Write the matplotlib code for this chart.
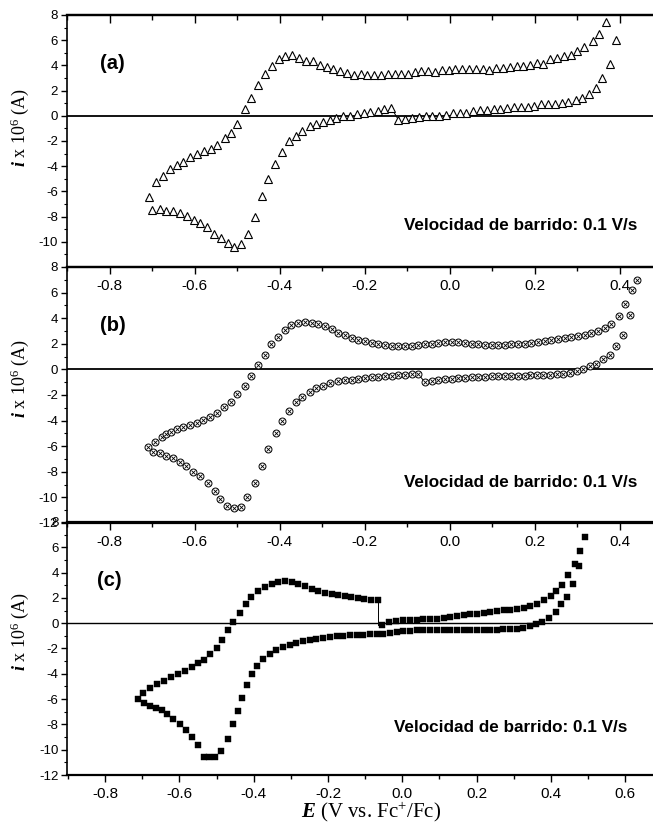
import matplotlib
matplotlib.use("Agg")
import matplotlib.pyplot as plt
from matplotlib.ticker import MultipleLocator

plt.rcParams['font.family'] = ['Liberation Sans', 'DejaVu Sans']
plt.rcParams['axes.unicode_minus'] = False
plt.rcParams['mathtext.fontset'] = 'custom'
plt.rcParams['mathtext.rm'] = 'Liberation Serif'
plt.rcParams['mathtext.it'] = 'Liberation Serif:italic'
plt.rcParams['mathtext.bf'] = 'Liberation Serif:bold'
plt.rcParams['mathtext.bfit'] = 'Liberation Serif:italic:bold'

# ---------------- data (E in V vs Fc+/Fc, i x 1e6 in A) ----------------
E_a = [-0.138, -0.154, -0.170, -0.187, -0.203, -0.219, -0.235, -0.251, -0.267, -0.282,
       -0.298, -0.314, -0.329, -0.347, -0.363, -0.379, -0.395, -0.411, -0.428, -0.443,
       -0.459, -0.475, -0.492, -0.508, -0.523, -0.539, -0.555, -0.571, -0.587, -0.602,
       -0.618, -0.635, -0.651, -0.667, -0.682, -0.700, -0.708,
       -0.692, -0.675, -0.659, -0.643, -0.628, -0.612, -0.595, -0.579, -0.563, -0.548,
       -0.530, -0.514, -0.500, -0.482, -0.467, -0.451, -0.435, -0.419, -0.402, -0.387,
       -0.371, -0.355, -0.339, -0.322, -0.306, -0.290, -0.275, -0.259, -0.243, -0.226,
       -0.210, -0.194, -0.178, -0.162, -0.146, -0.130, -0.114, -0.098, -0.082, -0.067,
       -0.051, -0.035, -0.018, -0.002, 0.013, 0.029, 0.044, 0.061, 0.077, 0.093,
       0.108, 0.124, 0.141, 0.157, 0.172, 0.188, 0.204, 0.220, 0.236, 0.253,
       0.268, 0.284, 0.300, 0.316, 0.336, 0.351, 0.368, 0.391,
       0.376, 0.359, 0.343, 0.327, 0.311, 0.296, 0.279, 0.264, 0.248, 0.232,
       0.215, 0.199, 0.183, 0.168, 0.151, 0.135, 0.119, 0.103, 0.087, 0.071,
       0.055, 0.039, 0.023, 0.008, -0.009, -0.025, -0.041, -0.057, -0.073, -0.089,
       -0.105, -0.121]
I_a = [0.64, 0.52, 0.42, 0.29, 0.21, 0.13, 0.00, -0.05, -0.18, -0.33,
       -0.47, -0.68, -0.78, -1.21, -1.60, -2.00, -2.85, -3.83, -5.04, -6.37,
       -8.06, -9.41, -10.20, -10.44, -10.12, -9.67, -9.38, -8.80, -8.48, -8.27,
       -7.95, -7.74, -7.53, -7.53, -7.42, -7.48, -6.42,
       -5.23, -4.75, -4.25, -3.90, -3.64, -3.27, -3.03, -2.77, -2.61, -2.32,
       -1.79, -1.34, -0.65, 0.52, 1.39, 2.44, 3.32, 3.95, 4.48, 4.75,
       4.80, 4.56, 4.35, 4.37, 4.03, 3.85, 3.71, 3.56, 3.42, 3.24,
       3.29, 3.24, 3.24, 3.24, 3.29, 3.30, 3.30, 3.29, 3.45, 3.56,
       3.56, 3.45, 3.63, 3.63, 3.69, 3.69, 3.69, 3.69, 3.69, 3.63,
       3.77, 3.77, 3.85, 3.98, 3.98, 4.03, 4.16, 4.08, 4.48, 4.56,
       4.77, 4.82, 5.14, 5.43, 5.94, 6.47, 7.47, 6.02,
       4.08, 2.97, 2.23, 1.73, 1.39, 1.25, 1.12, 1.04, 0.96, 0.91,
       0.91, 0.78, 0.73, 0.73, 0.68, 0.60, 0.52, 0.52, 0.47, 0.47,
       0.42, 0.26, 0.26, 0.21, 0.08, 0.00, 0.00, 0.00, -0.08, -0.18,
       -0.24, -0.32]

E_b = [-0.075, -0.090, -0.106, -0.121, -0.137, -0.153, -0.168, -0.184, -0.200, -0.215,
       -0.231, -0.247, -0.263, -0.282, -0.298, -0.314, -0.329, -0.347, -0.363, -0.378,
       -0.394, -0.410, -0.427, -0.442, -0.458, -0.477, -0.492, -0.508, -0.524, -0.540,
       -0.553, -0.569, -0.588, -0.604, -0.620, -0.635, -0.651, -0.667, -0.682, -0.698,
       -0.710,
       -0.694, -0.678, -0.667, -0.655, -0.643, -0.628, -0.612, -0.596, -0.580, -0.565,
       -0.548, -0.531, -0.515, -0.500, -0.482, -0.467, -0.451, -0.435, -0.420, -0.404,
       -0.388, -0.373, -0.357, -0.341, -0.325, -0.310, -0.294, -0.278, -0.263, -0.247,
       -0.231, -0.215, -0.200, -0.184, -0.168, -0.153, -0.137, -0.121, -0.106, -0.090,
       -0.074, -0.059, -0.043, -0.027, -0.012, 0.004, 0.020, 0.035, 0.051, 0.067,
       0.082, 0.098, 0.114, 0.129, 0.145, 0.161, 0.176, 0.192, 0.208, 0.223,
       0.239, 0.255, 0.270, 0.286, 0.302, 0.318, 0.333, 0.349, 0.365, 0.380,
       0.398, 0.412, 0.428, 0.441,
       0.424, 0.408, 0.391, 0.376, 0.361, 0.345, 0.329, 0.314, 0.298, 0.282,
       0.267, 0.251, 0.235, 0.220, 0.204, 0.188, 0.176, 0.161, 0.145, 0.129,
       0.114, 0.098, 0.082, 0.067, 0.051, 0.035, 0.020, 0.004, -0.012, -0.027,
       -0.043, -0.059]
I_b = [-0.35, -0.39, -0.41, -0.46, -0.52, -0.54, -0.59, -0.59, -0.64, -0.72,
       -0.80, -0.85, -0.93, -1.09, -1.30, -1.48, -1.79, -2.13, -2.57, -3.25,
       -4.00, -5.00, -6.24, -7.55, -8.85, -10.00, -10.73, -10.86, -10.67, -10.15,
       -9.50, -8.90, -8.30, -7.99, -7.52, -7.21, -6.95, -6.74, -6.56, -6.43,
       -6.04,
       -5.65, -5.26, -5.05, -4.87, -4.68, -4.48, -4.34, -4.16, -3.95, -3.69,
       -3.38, -2.91, -2.52, -1.95, -1.30, -0.52, 0.34, 1.13, 1.98, 2.55,
       3.08, 3.47, 3.65, 3.70, 3.65, 3.52, 3.39, 3.15, 2.86, 2.66,
       2.48, 2.32, 2.19, 2.06, 1.96, 1.88, 1.83, 1.80, 1.80, 1.83,
       1.88, 1.96, 2.01, 2.09, 2.14, 2.14, 2.14, 2.09, 2.01, 1.96,
       1.93, 1.93, 1.93, 1.93, 1.96, 1.96, 2.01, 2.06, 2.14, 2.22,
       2.27, 2.35, 2.45, 2.53, 2.61, 2.71, 2.84, 3.00, 3.23, 3.57,
       4.15, 5.08, 6.23, 6.96,
       4.22, 2.71, 1.80, 1.10, 0.79, 0.45, 0.24, 0.06, -0.13, -0.28,
       -0.33, -0.39, -0.41, -0.46, -0.46, -0.46, -0.49, -0.52, -0.52, -0.54,
       -0.54, -0.54, -0.59, -0.59, -0.59, -0.64, -0.67, -0.72, -0.78, -0.85,
       -0.93, -0.98]

E_c = [-0.056, -0.037, -0.017, 0.003, 0.021, 0.039, 0.057, 0.075, 0.093, 0.111,
       0.129, 0.147, 0.165, 0.183, 0.201, 0.219, 0.237, 0.255, 0.273, 0.291,
       0.309, 0.327, 0.345, 0.363, 0.381, 0.399, 0.415, 0.431, 0.446, 0.464,
       0.479, 0.492,
       0.475, 0.460, 0.444, 0.428, 0.413, 0.395, 0.377, 0.360, 0.344, 0.326,
       0.308, 0.290, 0.272, 0.254, 0.236, 0.219, 0.201, 0.183, 0.165, 0.147,
       0.129, 0.111, 0.093, 0.075, 0.057, 0.039, 0.021, 0.003, -0.015, -0.033,
       -0.051, -0.069, -0.087, -0.105, -0.123, -0.141, -0.159, -0.177, -0.195, -0.213,
       -0.231, -0.249, -0.267, -0.285, -0.303, -0.321, -0.339, -0.357, -0.374, -0.390,
       -0.404, -0.418, -0.431, -0.443, -0.455, -0.470, -0.488, -0.504, -0.520, -0.534,
       -0.549, -0.565, -0.583, -0.598, -0.616, -0.633, -0.648, -0.664, -0.679, -0.695,
       -0.711,
       -0.697, -0.679, -0.660, -0.641, -0.623, -0.603, -0.585, -0.567, -0.549, -0.533,
       -0.518, -0.500, -0.485, -0.470, -0.455, -0.437, -0.422, -0.406, -0.388, -0.370,
       -0.352, -0.334, -0.316, -0.298, -0.280, -0.262, -0.244, -0.226, -0.208, -0.190,
       -0.172, -0.155, -0.138, -0.120, -0.103, -0.085, -0.065]
I_c = [-0.18, 0.08, 0.18, 0.24, 0.24, 0.29, 0.32, 0.34, 0.37, 0.42,
       0.50, 0.55, 0.63, 0.71, 0.76, 0.84, 0.89, 0.97, 1.03, 1.08,
       1.16, 1.24, 1.34, 1.55, 1.82, 2.13, 2.55, 3.05, 3.79, 4.66,
       5.68, 6.81,
       4.50, 3.07, 2.08, 1.55, 0.89, 0.45, 0.10, -0.08, -0.24, -0.34,
       -0.42, -0.45, -0.47, -0.50, -0.50, -0.50, -0.50, -0.50, -0.50, -0.50,
       -0.50, -0.50, -0.50, -0.50, -0.53, -0.55, -0.60, -0.63, -0.71, -0.81,
       -0.87, -0.87, -0.89, -0.95, -0.97, -0.97, -1.03, -1.03, -1.08, -1.14,
       -1.21, -1.30, -1.42, -1.55, -1.72, -1.92, -2.15, -2.45, -2.85, -3.40,
       -4.05, -4.90, -5.90, -6.95, -8.00, -9.18, -10.10, -10.60, -10.60, -10.60,
       -9.63, -9.02, -8.45, -8.00, -7.60, -7.21, -6.87, -6.68, -6.53, -6.34,
       -6.02,
       -5.50, -5.16, -4.81, -4.55, -4.29, -4.05, -3.79, -3.50, -3.18, -2.87,
       -2.45, -1.95, -1.34, -0.55, 0.10, 0.81, 1.50, 2.08, 2.55, 2.87,
       3.13, 3.26, 3.31, 3.26, 3.13, 2.94, 2.74, 2.55, 2.39, 2.30,
       2.22, 2.15, 2.08, 1.98, 1.90, 1.87, 1.87]

xticks_ab = [-0.8, -0.6, -0.4, -0.2, 0.0, 0.2, 0.4]
xticks_c = [-0.8, -0.6, -0.4, -0.2, 0.0, 0.2, 0.4, 0.6]
yticks_a = [-10, -8, -6, -4, -2, 0, 2, 4, 6, 8]
yticks_bc = [-12, -10, -8, -6, -4, -2, 0, 2, 4, 6, 8]
panel_labels = ['(a)', '(b)', '(c)']
note = 'Velocidad de barrido: 0.1 V/s'
ylabel = r'$\mathbfit{i}$ x 10$^{6}$ (A)'
xlabel = r'$\mathbfit{E}$ (V vs. Fc$^{+}$/Fc)'

# ---------------- layout ----------------
W, H = 653, 827
fig = plt.figure(figsize=(W / 100, H / 100), dpi=100)


def make_ax(left, top, bottom):
    ax = fig.add_axes([left / W, 1 - bottom / H, 1 - left / W, (bottom - top) / H])
    ax.set_facecolor('none')
    ax.spines['right'].set_visible(False)
    ax.spines['top'].set_linewidth(1.6)
    ax.spines['bottom'].set_linewidth(1.6)
    ax.spines['left'].set_linewidth(1.2)
    ax.tick_params(axis='x', which='major', direction='out', length=5, width=1.0,
                   labelsize=11, pad=4.0, top=False)
    ax.tick_params(axis='x', which='minor', direction='out', length=3, width=1.0, top=False)
    ax.tick_params(axis='y', which='major', direction='out', length=4.5, width=1.0,
                   labelsize=9.5, pad=1.5)
    ax.tick_params(axis='y', which='minor', direction='out', length=2.5, width=0.8)
    ax.xaxis.set_minor_locator(MultipleLocator(0.1))
    ax.yaxis.set_minor_locator(MultipleLocator(1))
    ax.axhline(0, color='black', lw=1.3, zorder=1)
    return ax


ax_c = make_ax(67, 522, 775)
ax_b = make_ax(66.5, 267, 523)
ax_a = make_ax(66.5, 15, 267)

# panel (a)
ax_a.plot(E_a, I_a, linestyle='none', marker='^', ms=5.6, mfc='white', mec='black',
          mew=0.8, zorder=3)
ax_a.plot([E_a[-1], E_a[0]], [I_a[-1], I_a[0]], color='black', lw=0.7, zorder=2)
ax_a.set_xlim(-0.902, 0.478)
ax_a.set_ylim(-12, 8)
ax_a.set_xticks(xticks_ab)
ax_a.set_xticklabels(['%.1f' % v for v in xticks_ab])
ax_a.set_yticks(yticks_a)
ax_a.set_yticklabels(['%d' % v for v in yticks_a])
sec = ax_a.secondary_xaxis('top')
sec.set_xticks(xticks_ab)
sec.xaxis.set_minor_locator(MultipleLocator(0.1))
sec.tick_params(axis='x', which='major', direction='in', length=6, width=1.0, labeltop=False)
sec.tick_params(axis='x', which='minor', direction='in', length=3.5, width=1.0)
sec.spines['top'].set_linewidth(1.6)

# panel (b)
ax_b.plot(E_b, I_b, linestyle='none', marker='o', ms=5.0, mfc='white', mec='black',
          mew=0.7, zorder=3)
ax_b.plot(E_b, I_b, linestyle='none', marker='x', ms=3.0, mec='black', mew=0.6, zorder=4)
ax_b.plot([E_b[-1], E_b[0]], [I_b[-1], I_b[0]], color='black', lw=0.7, zorder=2)
ax_b.set_xlim(-0.902, 0.478)
ax_b.set_ylim(-12, 8)
ax_b.set_xticks(xticks_ab)
ax_b.set_xticklabels(['%.1f' % v for v in xticks_ab])
ax_b.set_yticks(yticks_bc)
ax_b.set_yticklabels(['%d' % v for v in yticks_bc])

# panel (c)
ax_c.get_lines()[0].set_linewidth(1.0)
ax_c.plot(E_c, I_c, linestyle='none', marker='s', ms=4.4, mfc='black', mec='black',
          mew=0.3, zorder=3)
ax_c.plot([E_c[-1], E_c[-1]], [I_c[-1], I_c[0]], color='black', lw=0.7, zorder=2)
ax_c.set_xlim(-0.9026, 0.6748)
ax_c.set_ylim(-12, 8)
ax_c.set_xticks(xticks_c)
ax_c.set_xticklabels(['%.1f' % v for v in xticks_c])
ax_c.set_yticks(yticks_bc)
ax_c.set_yticklabels(['%d' % v for v in yticks_bc])

# texts
ax_a.text(0.057, 0.806, panel_labels[0], transform=ax_a.transAxes, fontsize=14.5,
          fontweight='bold', va='center', ha='left')
ax_b.text(0.057, 0.770, panel_labels[1], transform=ax_b.transAxes, fontsize=14.5,
          fontweight='bold', va='center', ha='left')
ax_c.text(0.051, 0.767, panel_labels[2], transform=ax_c.transAxes, fontsize=14.5,
          fontweight='bold', va='center', ha='left')

ax_a.text(0.974, 0.165, note, transform=ax_a.transAxes, fontsize=12.3, fontweight='bold',
          va='center', ha='right')
ax_b.text(0.973, 0.158, note, transform=ax_b.transAxes, fontsize=12.3, fontweight='bold',
          va='center', ha='right')
ax_c.text(0.957, 0.188, note, transform=ax_c.transAxes, fontsize=12.3, fontweight='bold',
          va='center', ha='right')

for yc in (128, 379, 632):
    fig.text(20 / W, 1 - yc / H, ylabel, rotation=90, fontsize=13,
             family=['Liberation Serif'], ha='center', va='center')
fig.text(371 / W, 1 - 812 / H, xlabel, fontsize=15, family=['Liberation Serif'],
         ha='center', va='center')

fig.savefig('out.png', dpi=100)
